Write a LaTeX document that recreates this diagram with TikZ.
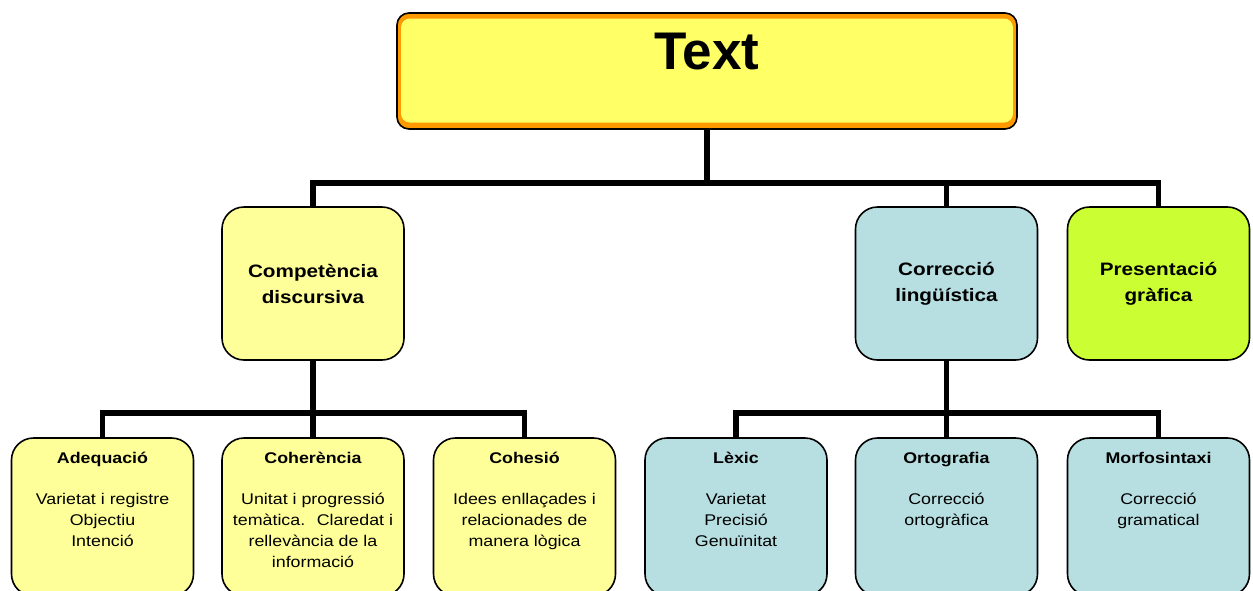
\documentclass[tikz,border=0pt]{standalone}
\usepackage{fontspec}
\setmainfont{Liberation Sans}
\newfontfamily\wide{Liberation Sans}[FakeStretch=1.15]
\usetikzlibrary{backgrounds}
\definecolor{topyel}{HTML}{FFFF66}
\definecolor{toporg}{HTML}{FF9900}
\definecolor{lyel}{HTML}{FFFF99}
\definecolor{lblue}{HTML}{B7DEE0}
\definecolor{lgreen}{HTML}{CCFF33}
\begin{document}
\begin{tikzpicture}[x=1pt,y=-1pt,
  box/.style={draw=black, line width=1.6pt, rounded corners=22pt, minimum width=182pt, minimum height=153pt, inner sep=0pt},
  midtxt/.style={align=center, font=\wide\bfseries\fontsize{18}{26}\selectfont},
  lowbox/.style={box, minimum height=158pt},
  lowtxt/.style={anchor=north, align=center, inner sep=0pt, font=\wide\fontsize{15.5}{21}\selectfont},
  conn/.style={line width=5.5pt, line join=miter},
]
\useasboundingbox (0,0) rectangle (1253,590);
\clip (0,0) rectangle (1253,590);

% top box
\node[draw=black, line width=1.6pt, fill=toporg, rounded corners=12pt, minimum width=620pt, minimum height=116pt, inner sep=0pt] (top) at (707,71) {};
\node[fill=topyel, rounded corners=9pt, minimum width=612pt, minimum height=104pt, inner sep=0pt] (topin) at (707,70.5) {};
\node[inner sep=0pt, font=\bfseries\fontsize{53}{60}\selectfont] (toptxt) at (707,51.5) {Text};

% middle level
\node[box, fill=lyel, midtxt] (comp) at (313,283.5) {Competència\\discursiva};
\node[box, fill=lblue, midtxt] (corr) at (946.5,283.5) {Correcció\\lingüística};
\node[box, fill=lgreen, midtxt] (pres) at (1158.5,283.5) {Presentació\\gràfica};

% lower level
\node[lowbox, fill=lyel] (adeq) at (102.5,517) {};
\node[lowbox, fill=lyel] (coher) at (313,517) {};
\node[lowbox, fill=lyel] (cohes) at (524.5,517) {};
\node[lowbox, fill=lblue] (lexic) at (736,517) {};
\node[lowbox, fill=lblue] (orto) at (946.5,517) {};
\node[lowbox, fill=lblue] (morfo) at (1158.5,517) {};

\node[lowtxt] (adeqt) at (102.5,449) {\strut\textbf{Adequació}\\[20pt]Varietat i registre\\Objectiu\\Intenció};
\node[lowtxt] (cohert) at (313,449) {\strut\textbf{Coherència}\\[20pt]Unitat i progressió\\temàtica.~ Claredat i\\rellevància de la\\informació};
\node[lowtxt] (cohest) at (524.5,449) {\strut\textbf{Cohesió}\\[20pt]Idees enllaçades i\\relacionades de\\manera lògica};
\node[lowtxt] (lexict) at (736,449) {\strut\textbf{Lèxic}\\[20pt]Varietat\\Precisió\\Genuïnitat};
\node[lowtxt] (ortot) at (946.5,449) {\strut\textbf{Ortografia}\\[20pt]Correcció\\ortogràfica};
\node[lowtxt] (morfot) at (1158.5,449) {\strut\textbf{Morfosintaxi}\\[20pt]Correcció\\gramatical};

\coordinate (bus1) at (0,183);
\coordinate (bus2) at (0,413);

\begin{pgfonlayer}{background}
\draw[conn] (top.south) -- (top.south |- bus1) -| (comp.north);
\draw[conn] (top.south |- bus1) -| (corr.north);
\draw[conn] (top.south |- bus1) -| (pres.north);
\draw[conn] (comp.south) -- (comp.south |- bus2) -| (adeq.north);
\draw[conn] (comp.south |- bus2) -- (coher.north);
\draw[conn] (comp.south |- bus2) -| (cohes.north);
\draw[conn] (corr.south) -- (corr.south |- bus2) -| (lexic.north);
\draw[conn] (corr.south |- bus2) -- (orto.north);
\draw[conn] (corr.south |- bus2) -| (morfo.north);
\end{pgfonlayer}
\end{tikzpicture}
\end{document}
